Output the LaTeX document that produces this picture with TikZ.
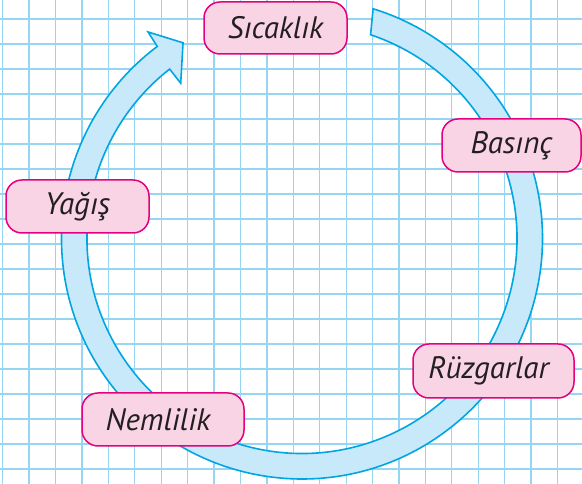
\documentclass[tikz,border=0pt]{standalone}
\usepackage{fontspec}
\setmainfont{PT Sans}
\begin{document}
\begin{tikzpicture}[x=1pt,y=1pt]
\definecolor{gridblue}{RGB}{150,214,242}
\definecolor{ringfill}{RGB}{200,233,249}
\definecolor{ringline}{RGB}{0,166,226}
\definecolor{boxfill}{RGB}{249,212,228}
\definecolor{boxline}{RGB}{230,0,126}
\definecolor{txt}{RGB}{35,31,32}
\tikzset{
  gridline/.style={draw=gridblue, line width=1.3pt},
  ring/.style={draw=ringline, fill=ringfill, line width=1.6pt, line join=miter},
  lbl/.style={draw=boxline, fill=boxfill, line width=1.5pt, rounded corners=16pt,
    font=\fontsize{31}{36}\selectfont\itshape, text=txt, inner sep=0pt}
}
\useasboundingbox (0,0) rectangle (582,484);
\fill[white] (0,0) rectangle (582,484);
\foreach \k in {0,...,21} \draw[gridline] ({2.7+26.42*\k},0) -- ({2.7+26.42*\k},484);
\foreach \k in {0,...,18} \draw[gridline] (0,{484-19-25*\k}) -- (582,{484-19-25*\k});
\begin{scope}[shift={(302,245.5)}]
\draw[ring] (126.7:257.6) -- (127:240.5)
  arc[start angle=127, end angle=432.8, radius=240.5]
  -- (431.4:215)
  arc[start angle=431.4, end angle=128, radius=215]
  -- (128:197) -- (121.3:229) -- cycle;
\end{scope}
\node[lbl, minimum width=143pt, minimum height=52pt] (sic) at (275.5,456) {Sıcaklık};
\node[lbl, minimum width=139pt, minimum height=53pt] (bas) at (511.5,338.5) {Basınç};
\node[lbl, minimum width=143pt, minimum height=53pt] (yag) at (77.5,277.5) {Yağış};
\node[lbl, minimum width=161pt, minimum height=54pt] (ruz) at (493.5,113) {Rüzgarlar\kern10pt};
\node[lbl, minimum width=162pt, minimum height=53pt] (nem) at (163,64.5) {Nemlilik\kern10pt};
\end{tikzpicture}
\end{document}
